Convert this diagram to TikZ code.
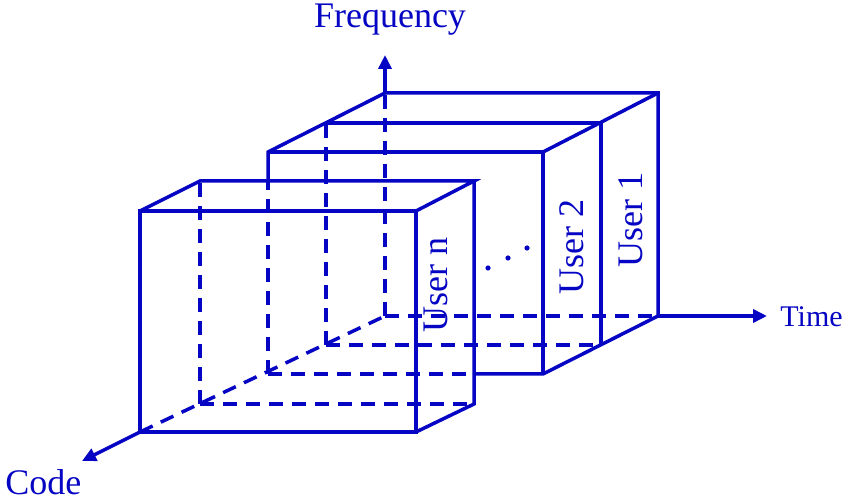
\documentclass[tikz,border=0pt]{standalone}
\usepackage{fontspec}
\setmainfont{Liberation Serif}
\usetikzlibrary{arrows.meta}
\definecolor{ink}{RGB}{5,5,195}
\begin{document}
\begin{tikzpicture}[x=0.5pt,y=-0.5pt,
  edge/.style={draw=ink,line width=1.75pt,line cap=butt,line join=miter},
  hidden/.style={edge,dash pattern=on 7pt off 4.5pt},
  axisarrow/.style={edge,-{Triangle[length=7pt,width=6.5pt]}},
  lbl/.style={text=ink,inner sep=0pt,font=\fontsize{18}{20}\selectfont},
  dotmark/.style={fill=ink,circle,inner sep=0pt,minimum size=2.6pt}]
\useasboundingbox (0,0) rectangle (850,501);
% coordinates
\coordinate (O) at (385,316);
% back block
\coordinate (b0tl) at (385,93);  \coordinate (b0tr) at (658,93);  \coordinate (b0br) at (658,316);
\coordinate (b1tl) at (326,123); \coordinate (b1tr) at (601,123); \coordinate (b1br) at (601,345); \coordinate (b1bl) at (326,345);
\coordinate (b2tl) at (268,152); \coordinate (b2tr) at (543,152); \coordinate (b2br) at (543,374); \coordinate (b2bl) at (268,374);
\coordinate (b2cut) at (268,181); \coordinate (b2bcut) at (474,374);
% front box
\coordinate (fftl) at (140,211); \coordinate (fftr) at (416,211); \coordinate (ffbr) at (416,432); \coordinate (ffbl) at (140,432);
\coordinate (fbtl) at (200,181); \coordinate (fbtr) at (474,181); \coordinate (fbbr) at (474,404); \coordinate (fbbl) at (200,404);
% axis ends
\coordinate (freqtip) at (385,55);
\coordinate (timetip) at (767,316);
\coordinate (codetip) at (82,461);

% hidden lines
\draw[hidden] (O) -- (b0tl);
\draw[hidden] (b1bl) -- (b1tl);
\draw[hidden] (b2bl) -- (b2cut);
\draw[hidden] (O) -- (b0br);
\draw[hidden] (b1bl) -- (b1br);
\draw[hidden] (b2bl) -- (b2bcut);
\draw[hidden] (ffbl) -- (O);
\draw[hidden] (fbbl) -- (fbtl);
\draw[hidden] (fbbl) -- (fbbr);

% back block visible edges
\draw[edge] (b2cut) -- (b2tl) -- (b0tl) -- (b0tr) -- (b0br) -- (b2br) -- (b2bcut);
\draw[edge] (b2tl) -- (b2tr) -- (b2br);
\draw[edge] (b2tr) -- (b0tr);
\draw[edge] (b1tl) -- (b1tr) -- (b1br);

% front box visible edges
\draw[edge] (fftl) rectangle (ffbr);
\draw[edge] (fftl) -- (fbtl) -- (fbtr) -- (fftr);
\draw[edge] (fbtr) -- (fbbr) -- (ffbr);

% axes
\draw[axisarrow] (b0tl) -- (freqtip);
\draw[axisarrow] (b0br) -- (timetip);
\draw[axisarrow] (ffbl) -- (codetip);

% labels
\node[lbl,anchor=base] (freq) at (390,28) {Frequency};
\node[lbl,anchor=base west,font=\fontsize{15}{17}\selectfont] (time) at (780,327) {Time};
\node[lbl,anchor=base west] (code) at (5,494) {Code};
\node[lbl,rotate=90] (un) at (436,285) {User n};
\node[lbl,rotate=90] (u2) at (572,247) {User 2};
\node[lbl,rotate=90] (u1) at (631,220) {User 1};
\node[dotmark] (d1) at (488,268) {};
\node[dotmark] (d2) at (508,258) {};
\node[dotmark] (d3) at (527,248) {};
\end{tikzpicture}
\end{document}
